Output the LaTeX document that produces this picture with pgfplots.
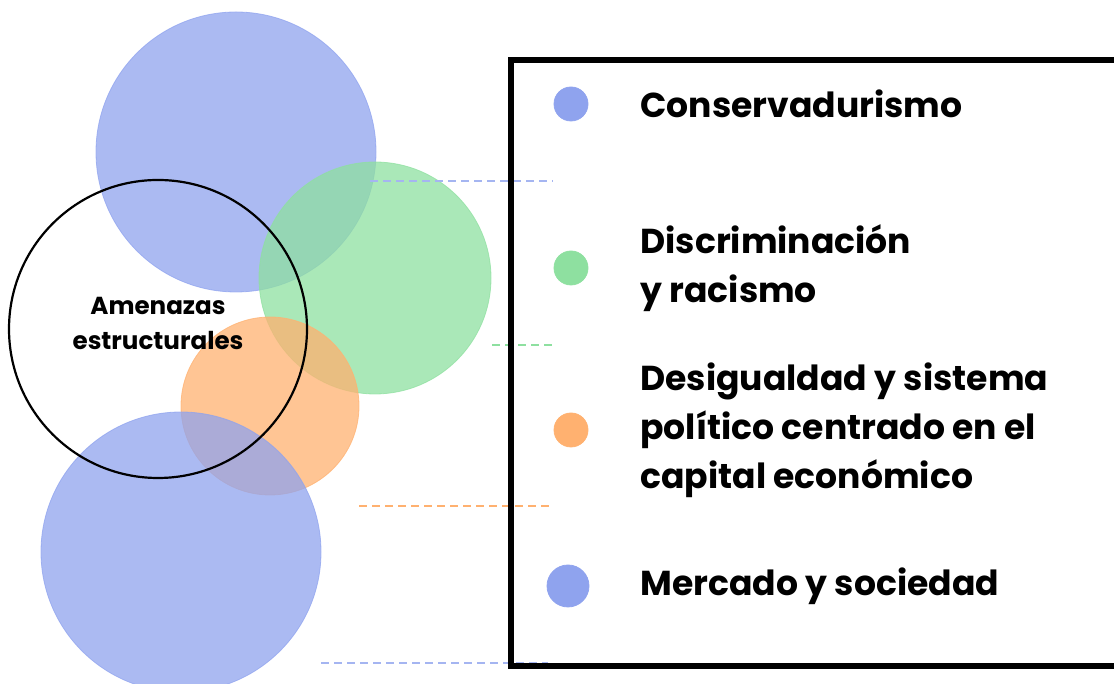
\documentclass[border=0pt]{standalone}
\usepackage{pgfplots}
\pgfplotsset{compat=1.18}
\usepackage{fontspec}
\setmainfont{Poppins}
\definecolor{cblue}{HTML}{8FA3EE}
\definecolor{cgreen}{HTML}{8EE0A0}
\definecolor{corange}{HTML}{FFB170}
\begin{document}
\begin{tikzpicture}
\begin{axis}[
  scale only axis, width=557pt, height=342pt,
  xmin=0, xmax=1114, ymin=0, ymax=684,
  hide axis, clip=true, clip marker paths=true,
]
% bubbles: centre x, centre y (pixels from bottom), radius 140 px => 70pt
\addplot[only marks, mark=*, mark size=70pt, color=cblue, opacity=0.75] coordinates {(236,532)};
\addplot[only marks, mark=*, mark size=58pt, color=cgreen, opacity=0.75] coordinates {(375,406)};
\addplot[only marks, mark=*, mark size=44.5pt, color=corange, opacity=0.75] coordinates {(270,278)};
\addplot[only marks, mark=*, mark size=70pt, color=cblue, opacity=0.75] coordinates {(181,132)};
\addplot[only marks, mark=o, mark size=74.5pt, black, line width=1.1pt] coordinates {(158,355)};
% dashed leader lines
\addplot[cblue!80, line width=0.9pt, dash pattern=on 4pt off 2.5pt] coordinates {(370,503) (553,503)};
\addplot[cgreen, line width=0.9pt, dash pattern=on 4pt off 2.5pt] coordinates {(492,339) (553,339)};
\addplot[corange, line width=0.9pt, dash pattern=on 4pt off 2.5pt] coordinates {(359,178) (552,178)};
\addplot[cblue!80, line width=0.9pt, dash pattern=on 4pt off 2.5pt] coordinates {(321,21) (548,21)};
% legend box
\addplot[black, line width=3pt] coordinates {(1130,624) (511,624) (511,18) (1130,18)};
% legend dots
\addplot[only marks, mark=*, mark size=8.5pt, color=cblue] coordinates {(571,580)};
\addplot[only marks, mark=*, mark size=8.5pt, color=cgreen] coordinates {(571,416)};
\addplot[only marks, mark=*, mark size=8.5pt, color=corange] coordinates {(571,254)};
\addplot[only marks, mark=*, mark size=10.5pt, color=cblue] coordinates {(568,98)};
% texts
\node[anchor=west, inner sep=0pt, font=\fontsize{17.3}{24.5}\selectfont\bfseries] at (axis cs:640,580) {Conservadurismo};
\node[anchor=west, inner sep=0pt, align=left, font=\fontsize{17.3}{24.5}\selectfont\bfseries] at (axis cs:640,416) {Discriminación\\y racismo};
\node[anchor=west, inner sep=0pt, align=left, font=\fontsize{17.3}{24.5}\selectfont\bfseries] at (axis cs:640,254) {Desigualdad y sistema\\político centrado en el\\capital económico};
\node[anchor=west, inner sep=0pt, font=\fontsize{17.3}{24.5}\selectfont\bfseries] at (axis cs:640,98) {Mercado y sociedad};
\node[align=center, font=\fontsize{12.3}{17.5}\selectfont\bfseries] at (axis cs:158,361) {Amenazas\\estructurales};
\end{axis}
\pgfresetboundingbox
\path (current axis.south west) rectangle (current axis.north east);
\end{tikzpicture}
\end{document}
